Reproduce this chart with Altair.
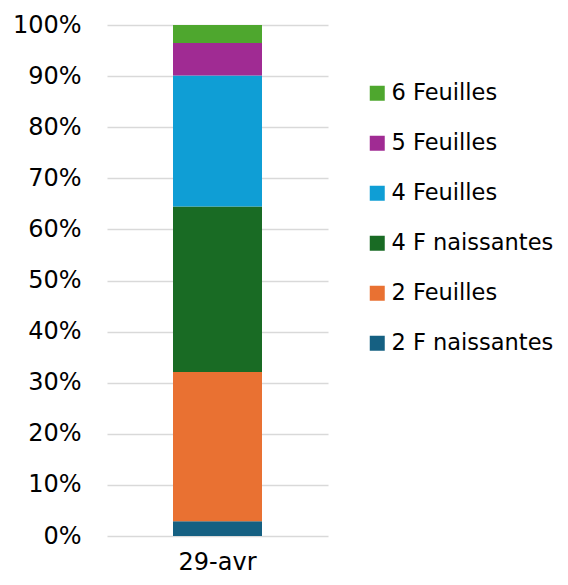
import altair as alt
import pandas as pd

categories = ["2 F naissantes", "2 Feuilles", "4 F naissantes", "4 Feuilles", "5 Feuilles", "6 Feuilles"]
values = [2.9, 29.2, 32.4, 25.6, 6.4, 3.5]
colors = ["#156082", "#E97132", "#196B24", "#0F9ED5", "#A02B93", "#4EA72E"]
date_label = "29-avr"
y_ticks = [0, 0.1, 0.2, 0.3, 0.4, 0.5, 0.6, 0.7, 0.8, 0.9, 1.0]

df = pd.DataFrame({
    "date": [date_label] * len(categories),
    "stade": categories,
    "val": values,
    "ord": list(range(len(categories))),
})

FONT = "DejaVu Sans"
FS = 24

chart = alt.Chart(df).mark_bar(size=89).encode(
    x=alt.X("date:N", title=None,
            axis=alt.Axis(labelAngle=0, domain=False, ticks=False, labelPadding=14,
                          labelFontSize=FS, labelColor="#000000", labelFont=FONT)),
    y=alt.Y("val:Q", stack="normalize", title=None,
            scale=alt.Scale(domain=[0, 1]),
            axis=alt.Axis(format="%", values=y_ticks, domain=False, ticks=False,
                          labelPadding=26, labelFontSize=FS, labelColor="#000000",
                          labelFont=FONT, gridColor="#D9D9D9", gridWidth=1.5)),
    color=alt.Color("stade:N", title=None,
                    scale=alt.Scale(domain=categories[::-1], range=colors[::-1]),
                    legend=alt.Legend(orient="none", legendX=259, legendY=57,
                                      symbolType="square", symbolSize=225,
                                      symbolStrokeWidth=0, labelFontSize=22.5,
                                      labelFont=FONT, labelColor="#000000",
                                      labelOffset=3, rowPadding=27, labelLimit=300)),
    order=alt.Order("ord:Q", sort="ascending"),
).properties(
    width=221,
    height=511,
    autosize=alt.AutoSizeParams(type="none"),
    padding={"left": 99, "top": 17, "right": 232, "bottom": 41},
).configure_view(stroke=None)

chart.save("out.html", embed_options={"renderer": "svg", "actions": False})
